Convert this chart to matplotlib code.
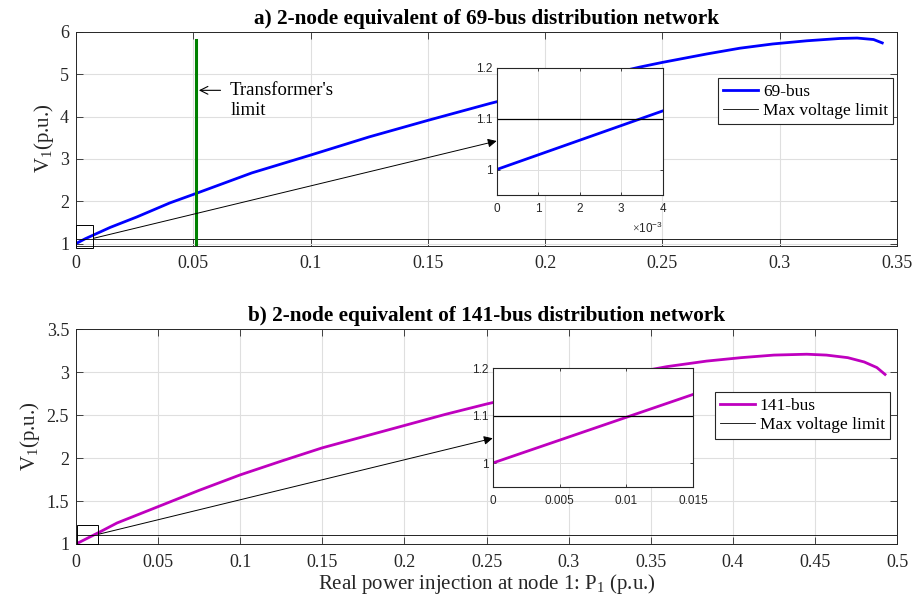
import matplotlib
matplotlib.use("Agg")
import matplotlib.pyplot as plt
from matplotlib.ticker import FuncFormatter
from matplotlib.patches import Rectangle

plt.rcParams['font.family'] = ['Liberation Serif', 'DejaVu Serif']
plt.rcParams['mathtext.fontset'] = 'custom'
plt.rcParams['mathtext.rm'] = 'Liberation Serif'
plt.rcParams['mathtext.it'] = 'Liberation Serif:italic'
plt.rcParams['mathtext.bf'] = 'Liberation Serif:bold'
plt.rcParams['mathtext.sf'] = 'Liberation Sans'

# 69-bus equivalent, P1 vs V1
p_69 = [0, 0.004, 0.0145, 0.026, 0.04, 0.051, 0.075, 0.1, 0.125, 0.15, 0.1765,
        0.2, 0.22, 0.2404, 0.25, 0.269, 0.283, 0.297, 0.3115, 0.3257, 0.333,
        0.34, 0.3437]
v_69 = [1.0, 1.115, 1.38, 1.63, 1.96, 2.18, 2.67, 3.09, 3.52, 3.91, 4.31,
        4.64, 4.91, 5.17, 5.28, 5.48, 5.615, 5.715, 5.79, 5.845, 5.855,
        5.82, 5.74]

# 141-bus equivalent
p_141 = [0, 0.015, 0.025, 0.05, 0.075, 0.1, 0.125, 0.15, 0.175, 0.2, 0.225,
         0.25, 0.3, 0.33, 0.36, 0.384, 0.405, 0.425, 0.445, 0.457, 0.47,
         0.48, 0.4877, 0.4927]
v_141 = [1.0, 1.145, 1.245, 1.435, 1.625, 1.805, 1.965, 2.12, 2.25, 2.38, 2.51,
         2.63, 2.85, 2.96, 3.066, 3.13, 3.17, 3.20, 3.21, 3.20, 3.17,
         3.12, 3.055, 2.975]

v_max = 1.1
p_trafo = 0.0512
v_trafo = [0.95, 5.8]

xticks_a = [0, 0.05, 0.1, 0.15, 0.2, 0.25, 0.3, 0.35]
yticks_a = [1, 2, 3, 4, 5, 6]
xticks_b = [0, 0.05, 0.1, 0.15, 0.2, 0.25, 0.3, 0.35, 0.4, 0.45, 0.5]
yticks_b = [1, 1.5, 2, 2.5, 3, 3.5]
ins_xticks_a = [0, 0.001, 0.002, 0.003, 0.004]
ins_xticks_b = [0, 0.005, 0.01, 0.015]
ins_yticks = [1, 1.1, 1.2]

BLUE = '#0000ff'
MAG = '#bf00bf'
GREEN = '#008000'
AX_C = '#262626'
GRID_C = '#dfdfdf'

gfmt = FuncFormatter(lambda v, pos: '%g' % round(v, 6))


def style_main(ax, xt, yt):
    ax.set_xticks(xt)
    ax.set_yticks(yt)
    ax.xaxis.set_major_formatter(gfmt)
    ax.yaxis.set_major_formatter(gfmt)
    ax.grid(True, color=GRID_C, lw=0.8)
    ax.set_axisbelow(True)
    ax.tick_params(direction='in', length=5, width=0.6, color=AX_C,
                   labelcolor=AX_C, labelsize=13, top=True, right=True)
    ax.tick_params(axis='x', pad=7)
    ax.tick_params(axis='y', pad=5)
    for s in ax.spines.values():
        s.set_color(AX_C)
        s.set_linewidth(0.7)


def style_inset(ax):
    ax.set_yticks(ins_yticks)
    ax.yaxis.set_major_formatter(gfmt)
    ax.set_ylim(0.95, 1.2)
    ax.grid(True, color=GRID_C, lw=0.7)
    ax.set_axisbelow(True)
    ax.tick_params(direction='in', length=2.5, width=0.6, color=AX_C,
                   labelcolor=AX_C, labelsize=8.5, top=True, right=True)
    ax.tick_params(axis='x', pad=6)
    ax.tick_params(axis='y', pad=3)
    for lab in ax.get_xticklabels() + ax.get_yticklabels():
        lab.set_fontfamily('Liberation Sans')
    for s in ax.spines.values():
        s.set_color(AX_C)
        s.set_linewidth(0.8)


fig = plt.figure(figsize=(9.15, 6.02), dpi=100)

# ---- a) 69-bus ----
ax1 = fig.add_axes([0.08306, 0.5919, 0.8973, 0.3551])
l1, = ax1.plot(p_69, v_69, color=BLUE, lw=2, label='69-bus')
l2 = ax1.axhline(v_max, color='k', lw=0.6, label='Max voltage limit')
ax1.plot([p_trafo, p_trafo], v_trafo, color=GREEN, lw=2.2)
ax1.set_xlim(0, 0.35)
ax1.set_ylim(0.95, 6)
style_main(ax1, xticks_a, yticks_a)
ax1.set_ylabel('V$_1$(p.u.)', fontsize=15, color=AX_C, labelpad=3)
ax1.set_title('a) 2-node equivalent of 69-bus distribution network',
              fontsize=15.3, fontweight='bold', pad=6)
ax1.legend(handles=[l1, l2], loc='upper right', bbox_to_anchor=(0.9955, 0.783),
           borderaxespad=0, fontsize=12.5, fancybox=False, framealpha=1,
           edgecolor=AX_C, handlelength=2.0, handletextpad=0.3,
           borderpad=0.3, labelspacing=0.2).get_frame().set_linewidth(0.8)
ax1.annotate("", xy=(p_trafo, 4.62), xytext=(0.0628, 4.62),
             arrowprops=dict(arrowstyle='->', color='k', lw=0.8, mutation_scale=14))
ax1.text(0.0657, 4.38, "Transformer's\nlimit", fontsize=13.5, va='center',
         ha='left', linespacing=1.3)
ax1.add_patch(Rectangle((0, 0.9), 0.0072, 0.55, fill=False, ec='k', lw=0.7,
                        clip_on=False, zorder=5))

ins1 = fig.add_axes([0.5428, 0.6761, 0.1814, 0.2115])
ins1.plot(p_69, v_69, color=BLUE, lw=2)
ins1.axhline(v_max, color='k', lw=0.9)
ins1.set_xlim(0, 0.004)
ins1.set_xticks(ins_xticks_a)
ins1.xaxis.set_major_formatter(FuncFormatter(lambda v, pos: '%g' % round(v * 1000, 6)))
style_inset(ins1)
ins1.text(1.0, -0.26, r'$\times\mathsf{10^{-3}}$', transform=ins1.transAxes,
          ha='right', va='center', fontsize=8.5, color=AX_C)

ax1.annotate("", xy=(0.0, 0.424), xycoords=ins1.transAxes,
             xytext=(0.0074, 1.123), textcoords='data',
             arrowprops=dict(arrowstyle='-|>', color='k', lw=0.7,
                             mutation_scale=13, shrinkA=0, shrinkB=0))

# ---- b) 141-bus ----
ax2 = fig.add_axes([0.08306, 0.09635, 0.8973, 0.3566])
m1, = ax2.plot(p_141, v_141, color=MAG, lw=2, label='141-bus')
m2 = ax2.axhline(v_max, color='k', lw=0.6, label='Max voltage limit')
ax2.set_xlim(0, 0.5)
ax2.set_ylim(1, 3.5)
style_main(ax2, xticks_b, yticks_b)
ax2.set_ylabel('V$_1$(p.u.)', fontsize=15, color=AX_C, labelpad=3)
ax2.set_xlabel('Real power injection at node 1: P$_1$ (p.u.)', fontsize=15,
               color=AX_C, labelpad=1)
ax2.set_title('b) 2-node equivalent of 141-bus distribution network',
              fontsize=15.3, fontweight='bold', pad=6)
ax2.legend(handles=[m1, m2], loc='upper right', bbox_to_anchor=(0.9915, 0.7066),
           borderaxespad=0, fontsize=12.5, fancybox=False, framealpha=1,
           edgecolor=AX_C, handlelength=2.0, handletextpad=0.3,
           borderpad=0.3, labelspacing=0.2).get_frame().set_linewidth(0.8)
ax2.add_patch(Rectangle((0.0005, 1.0), 0.0128, 0.22, fill=False, ec='k', lw=0.7,
                        clip_on=False, zorder=5))

ins2 = fig.add_axes([0.5385, 0.1915, 0.2192, 0.1967])
ins2.plot(p_141, v_141, color=MAG, lw=2)
ins2.axhline(v_max, color='k', lw=0.9)
ins2.set_xlim(0, 0.015)
ins2.set_xticks(ins_xticks_b)
ins2.xaxis.set_major_formatter(gfmt)
style_inset(ins2)

ax2.annotate("", xy=(0.0, 0.409), xycoords=ins2.transAxes,
             xytext=(0.0134, 1.112), textcoords='data',
             arrowprops=dict(arrowstyle='-|>', color='k', lw=0.7,
                             mutation_scale=13, shrinkA=0, shrinkB=0))

fig.savefig('out.png', dpi=100)
